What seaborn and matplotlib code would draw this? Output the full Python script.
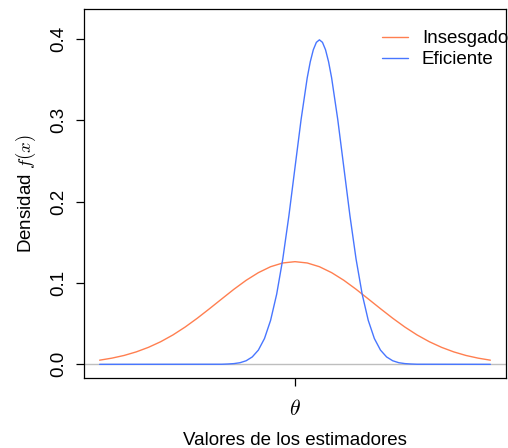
import matplotlib
matplotlib.use("Agg")
import matplotlib.pyplot as plt
import seaborn as sns
import pandas as pd
from matplotlib.lines import Line2D

# Values
x_insesgado = [-8.0, -7.5, -7.0, -6.5, -6.0, -5.5, -5.0, -4.5, -4.0, -3.5, -3.0, -2.5, -2.0, -1.5, -1.0, -0.5,
               0.0, 0.5, 1.0, 1.5, 2.0, 2.5, 3.0, 3.5, 4.0, 4.5, 5.0, 5.5, 6.0, 6.5, 7.0, 7.5, 8.0]
y_insesgado = [0.0051, 0.0076, 0.0109, 0.0153, 0.0209, 0.0278, 0.0361, 0.0458, 0.0567, 0.0684, 0.0804, 0.0923,
               0.1033, 0.1127, 0.1200, 0.1246, 0.1262, 0.1246, 0.1200, 0.1127, 0.1033, 0.0923, 0.0804, 0.0684,
               0.0567, 0.0458, 0.0361, 0.0278, 0.0209, 0.0153, 0.0109, 0.0076, 0.0051]

x_eficiente = [-8.0, -3.0, -2.75, -2.5, -2.25, -2.0, -1.75, -1.5, -1.25, -1.0, -0.75, -0.5, -0.25, 0.0, 0.25,
               0.5, 0.625, 0.75, 0.875, 1.0, 1.125, 1.25, 1.375, 1.5, 1.75, 2.0, 2.25, 2.5, 2.75, 3.0, 3.25,
               3.5, 3.75, 4.0, 4.25, 4.5, 4.75, 5.0, 8.0]
y_eficiente = [0.0, 0.0001, 0.0004, 0.0009, 0.0020, 0.0044, 0.0091, 0.0175, 0.0317, 0.0540, 0.0863, 0.1295,
               0.1826, 0.2420, 0.3011, 0.3521, 0.3719, 0.3867, 0.3958, 0.3989, 0.3958, 0.3867, 0.3719, 0.3521,
               0.3011, 0.2420, 0.1826, 0.1295, 0.0863, 0.0540, 0.0317, 0.0175, 0.0091, 0.0044, 0.0020, 0.0009,
               0.0004, 0.0001, 0.0]

series_names = ["Insesgado", "Eficiente"]
series_colors = ["#FF7F50", "#4876FF"]
y_ticks = [0.0, 0.1, 0.2, 0.3, 0.4]
y_ticklabels = ["0.0", "0.1", "0.2", "0.3", "0.4"]
x_ticks = [0.0]
x_ticklabels = [r"$\theta$"]

df = pd.concat([
    pd.DataFrame({"x": x_insesgado, "y": y_insesgado, "serie": series_names[0]}),
    pd.DataFrame({"x": x_eficiente, "y": y_eficiente, "serie": series_names[1]}),
], ignore_index=True)

sns.set_style("white")
plt.rcParams["font.family"] = ["Liberation Sans", "DejaVu Sans"]
plt.rcParams["mathtext.fontset"] = "cm"
for k in ["text.color", "axes.labelcolor", "xtick.color", "ytick.color", "axes.edgecolor"]:
    plt.rcParams[k] = "black"

FS = 13.5

fig = plt.figure(figsize=(5.08, 4.48), dpi=100)
ax = fig.add_axes([84 / 508, 1 - 378 / 448, (506 - 84) / 508, (378 - 9) / 448])

ax.axhline(0, color="#BEBEBE", lw=1.0, zorder=1)
sns.lineplot(data=df, x="x", y="y", hue="serie", palette=dict(zip(series_names, series_colors)),
             ax=ax, lw=1.0, sort=False, legend=False, zorder=2)

ax.set_xlim(-8.64, 8.64)
ax.set_ylim(-0.0168, 0.4368)
ax.set_yticks(y_ticks)
ax.set_yticklabels(y_ticklabels, rotation=90, va="center", fontsize=FS)
ax.set_xticks(x_ticks)
ax.set_xticklabels(x_ticklabels, fontsize=15.5)
ax.tick_params(axis="both", direction="out", length=6, width=0.9, color="black", left=True, bottom=True, pad=6)
ax.tick_params(axis="x", pad=9)
for s in ax.spines.values():
    s.set_color("black")
    s.set_linewidth(0.9)

ax.set_xlabel("Valores de los estimadores", fontsize=FS, labelpad=9)
ax.set_ylabel(r"Densidad $\mathsf{}f(x)$", fontsize=FS, labelpad=9)

handles = [Line2D([], [], color=c, lw=1.0) for c in series_colors]
ax.legend(handles, series_names, loc="upper left", bbox_to_anchor=(382 / 508, 1 - 30 / 448),
          bbox_transform=fig.transFigure, frameon=False, fontsize=FS, handlelength=1.4,
          handletextpad=0.72, labelspacing=0.22, borderpad=0, borderaxespad=0)

fig.savefig("out.png", dpi=100)
